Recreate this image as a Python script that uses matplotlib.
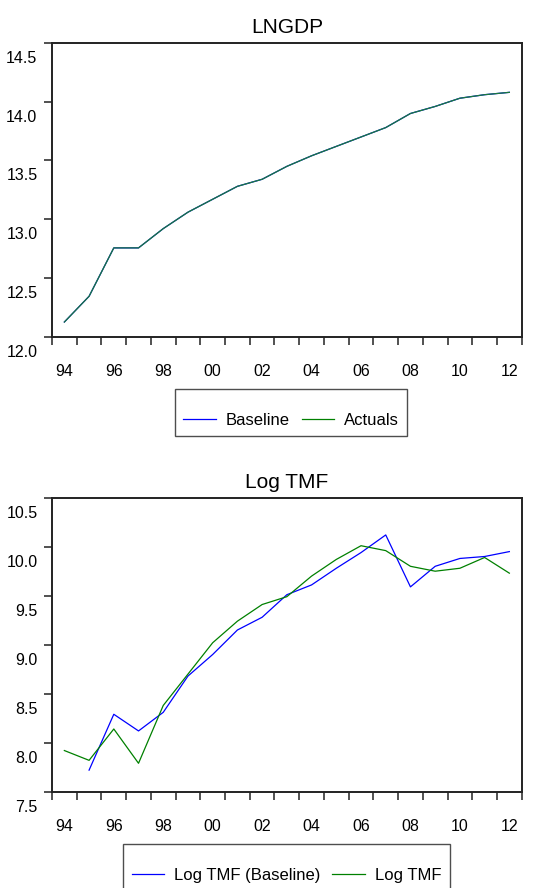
import matplotlib
matplotlib.use("Agg")
import matplotlib.pyplot as plt
import matplotlib.transforms as mtransforms

plt.rcParams['font.family'] = ['Liberation Sans', 'DejaVu Sans']

# data
years = list(range(1994, 2013))
lngdp_actual = [12.125, 12.344, 12.756, 12.756, 12.92, 13.06, 13.17, 13.28, 13.34, 13.45,
                13.54, 13.62, 13.70, 13.78, 13.90, 13.96, 14.03, 14.06, 14.08]
lngdp_baseline = list(lngdp_actual)

tmf_years_base = list(range(1995, 2013))
tmf_baseline = [7.72, 8.29, 8.12, 8.31, 8.68, 8.90, 9.15, 9.28, 9.51, 9.61,
                9.78, 9.94, 10.12, 9.59, 9.80, 9.88, 9.90, 9.95]
tmf_actual = [7.92, 7.82, 8.14, 7.79, 8.38, 8.70, 9.02, 9.24, 9.41, 9.49,
              9.70, 9.87, 10.01, 9.96, 9.80, 9.75, 9.78, 9.89, 9.73]

year_labels = ['94', '96', '98', '00', '02', '04', '06', '08', '10', '12']
gdp_ticks = [12.0, 12.5, 13.0, 13.5, 14.0, 14.5]
tmf_ticks = [7.5, 8.0, 8.5, 9.0, 9.5, 10.0, 10.5]

W, H = 545, 888
fig = plt.figure(figsize=(W / 100, H / 100), dpi=100)


def style_axes(ax, yticks, title):
    ax.set_xlim(1994, 2013)
    ax.set_ylim(yticks[0], yticks[-1])
    for s in ax.spines.values():
        s.set_linewidth(1.4)
        s.set_color('#222222')
    # year boundaries as tick marks, labels at the middle of even years
    ax.set_xticks(list(range(1994, 2014)))
    ax.set_xticklabels([])
    ax.set_xticks([y + 0.5 for y in range(1994, 2013, 2)], minor=True)
    ax.set_xticklabels(year_labels, minor=True)
    ax.tick_params(axis='x', which='major', direction='out', length=6, width=1.1,
                   color='#222222')
    ax.tick_params(axis='x', which='minor', length=0, pad=19.5, labelsize=11.5)
    ax.set_yticks(yticks)
    ax.set_yticklabels(['%.1f' % v for v in yticks])
    ax.tick_params(axis='y', direction='out', length=6, width=1.1, color='#222222',
                   pad=4.5, labelsize=11.5)
    # labels sit below their tick, as in the original
    offset = mtransforms.ScaledTranslation(0, -0.14, fig.dpi_scale_trans)
    for lab in ax.yaxis.get_majorticklabels():
        lab.set_transform(lab.get_transform() + offset)
    ax.set_title(title, fontsize=15, pad=7)


# top panel
ax1 = fig.add_axes([52 / W, (H - 336.7) / H, 469.7 / W, 293.7 / H])
mid = [y + 0.5 for y in years]
l1, = ax1.plot(mid, lngdp_baseline, color='#0000ff', lw=0.9, label='Baseline')
l2, = ax1.plot(mid, lngdp_actual, color='#1a7a3a', lw=0.9, label='Actuals')
style_axes(ax1, gdp_ticks, 'LNGDP')

leg_kw = dict(loc='upper center', fontsize=12, frameon=True, fancybox=False,
              edgecolor='#222222', ncol=2, handlelength=1.95, handletextpad=0.6,
              columnspacing=0.7, borderpad=0.5, borderaxespad=0, title=' ',
              title_fontproperties={'size': 6})
leg1 = fig.legend(handles=[l1, l2], bbox_to_anchor=(291.2 / W, (H - 389) / H), **leg_kw)
leg1.get_frame().set_linewidth(1.0)
# top legend actuals line colour should be plain green
leg1.get_lines()[1].set_color('#008000')

# bottom panel
ax2 = fig.add_axes([52 / W, (H - 791.7) / H, 469.7 / W, 294 / H])
l3, = ax2.plot([y + 0.5 for y in tmf_years_base], tmf_baseline, color='#0000ff', lw=0.9,
               label='Log TMF (Baseline)')
l4, = ax2.plot(mid, tmf_actual, color='#008000', lw=0.9, label='Log TMF')
style_axes(ax2, tmf_ticks, 'Log TMF')

leg2 = fig.legend(handles=[l3, l4], bbox_to_anchor=(286.6 / W, (H - 844.3) / H), **leg_kw)
leg2.get_frame().set_linewidth(1.0)

fig.savefig('out.png', dpi=100)
